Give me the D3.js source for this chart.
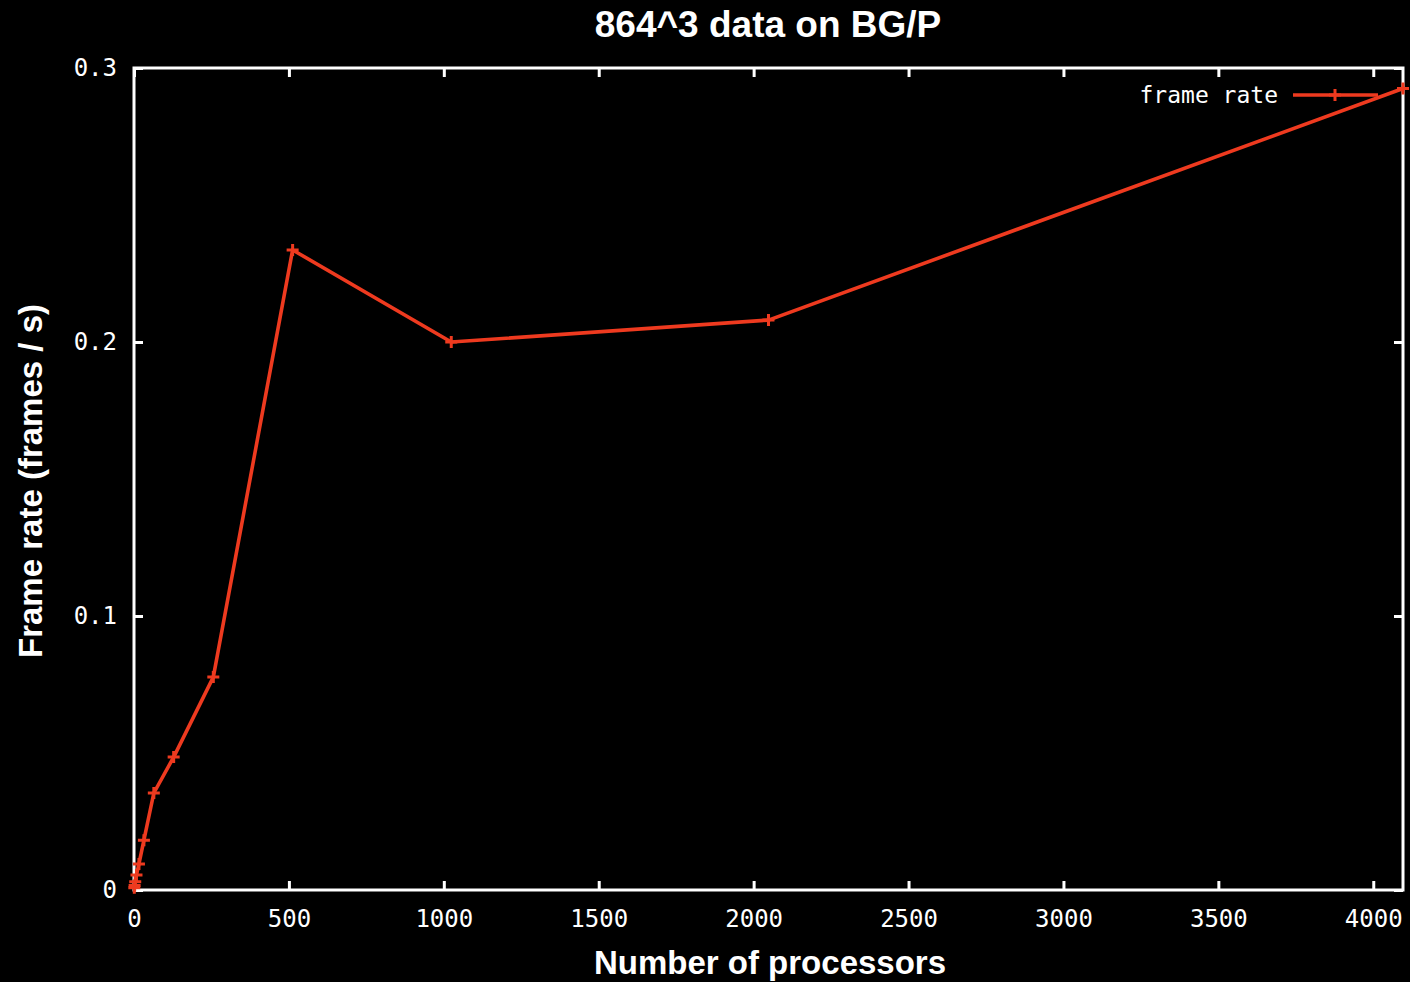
<!DOCTYPE html>
<html>
<head>
<meta charset="utf-8">
<script src="https://cdn.jsdelivr.net/npm/d3@7"></script>
<style>
  html, body { margin: 0; padding: 0; background: #000; }
  svg { display: block; }
</style>
</head>
<body>
<svg id="chart" width="1410" height="982"></svg>
<script>
// Frame rate measured for the 864^3 data set on BG/P
const processors = [1, 2, 4, 8, 16, 32, 64, 128, 256, 512, 1024, 2048, 4096];
const frameRate  = [0.0008, 0.0016, 0.003, 0.0055, 0.0095, 0.0182, 0.0354, 0.0485, 0.0777, 0.2336, 0.200, 0.208, 0.2925];
const xTicks = [0, 500, 1000, 1500, 2000, 2500, 3000, 3500, 4000];
const yTicks = [0, 0.1, 0.2, 0.3];
const seriesName = "frame rate";

const W = 1410, H = 982;
const margin = { left: 134, right: 7, top: 68, bottom: 92 };
const red = "#ee3a1f";
const monoFont = "'DejaVu Sans Mono', 'Liberation Mono', monospace";
const sansFont = "'Liberation Sans', Arial, sans-serif";

const svg = d3.select("#chart");
svg.append("rect").attr("width", W).attr("height", H).attr("fill", "#000");

const x = d3.scaleLinear().domain([0, 4096]).range([margin.left, W - margin.right]);
const y = d3.scaleLinear().domain([0, 0.3]).range([H - margin.bottom, margin.top]);

const tickLen = 9;

function styleAxis(g) {
  g.select(".domain").remove();
  g.selectAll(".tick line").attr("stroke", "#fff").attr("stroke-width", 3);
  g.selectAll(".tick text")
    .attr("fill", "#fff")
    .style("font-family", monoFont)
    .style("font-size", "24px");
}

// bottom and top axes with inward ticks
svg.append("g")
  .attr("transform", `translate(0,${y(0)})`)
  .call(d3.axisBottom(x).tickValues(xTicks).tickSize(-tickLen).tickPadding(20).tickFormat(d3.format("d")))
  .call(styleAxis);
svg.append("g")
  .attr("transform", `translate(0,${y(0.3)})`)
  .call(d3.axisTop(x).tickValues(xTicks).tickSize(-tickLen).tickFormat(""))
  .call(styleAxis);

// left and right axes with inward ticks
svg.append("g")
  .attr("transform", `translate(${x(0)},0)`)
  .call(d3.axisLeft(y).tickValues(yTicks).tickSize(-tickLen).tickPadding(17)
    .tickFormat(d => d === 0 ? "0" : d3.format(".1f")(d)))
  .call(styleAxis);
svg.append("g")
  .attr("transform", `translate(${x(4096)},0)`)
  .call(d3.axisRight(y).tickValues(yTicks).tickSize(-tickLen).tickFormat(""))
  .call(styleAxis);

// plot border
svg.append("rect")
  .attr("x", x(0)).attr("y", y(0.3))
  .attr("width", x(4096) - x(0)).attr("height", y(0) - y(0.3))
  .attr("fill", "none").attr("stroke", "#fff").attr("stroke-width", 3);

// data series
const pts = processors.map((p, i) => [p, frameRate[i]]);
svg.append("path")
  .datum(pts)
  .attr("fill", "none")
  .attr("stroke", red)
  .attr("stroke-width", 3.6)
  .attr("stroke-linejoin", "round")
  .attr("d", d3.line().x(d => x(d[0])).y(d => y(d[1])));

const plus = (cx, cy, r) => `M${cx - r},${cy}H${cx + r}M${cx},${cy - r}V${cy + r}`;
svg.append("g")
  .selectAll("path")
  .data(pts)
  .join("path")
  .attr("d", d => plus(x(d[0]), y(d[1]), 6))
  .attr("stroke", red)
  .attr("stroke-width", 3)
  .attr("fill", "none");

// legend
const legY = 95;
svg.append("text")
  .attr("x", 1278).attr("y", legY)
  .attr("text-anchor", "end").attr("dominant-baseline", "central")
  .attr("fill", "#fff")
  .style("font-family", monoFont).style("font-size", "23px")
  .text(seriesName);
svg.append("line")
  .attr("x1", 1293).attr("x2", 1378).attr("y1", legY).attr("y2", legY)
  .attr("stroke", red).attr("stroke-width", 3.6);
svg.append("path")
  .attr("d", plus(1335, legY, 6))
  .attr("stroke", red).attr("stroke-width", 3);

// titles
svg.append("text")
  .attr("x", 768).attr("y", 37)
  .attr("text-anchor", "middle")
  .attr("fill", "#fff")
  .style("font-family", sansFont).style("font-weight", "bold").style("font-size", "37px")
  .text("864^3 data on BG/P");

svg.append("text")
  .attr("x", 770).attr("y", 974)
  .attr("text-anchor", "middle")
  .attr("fill", "#fff")
  .style("font-family", sansFont).style("font-weight", "bold").style("font-size", "33px")
  .text("Number of processors");

svg.append("text")
  .attr("transform", "translate(42,481) rotate(-90)")
  .attr("text-anchor", "middle")
  .attr("fill", "#fff")
  .style("font-family", sansFont).style("font-weight", "bold").style("font-size", "33px")
  .text("Frame rate (frames / s)");
</script>
</body>
</html>
